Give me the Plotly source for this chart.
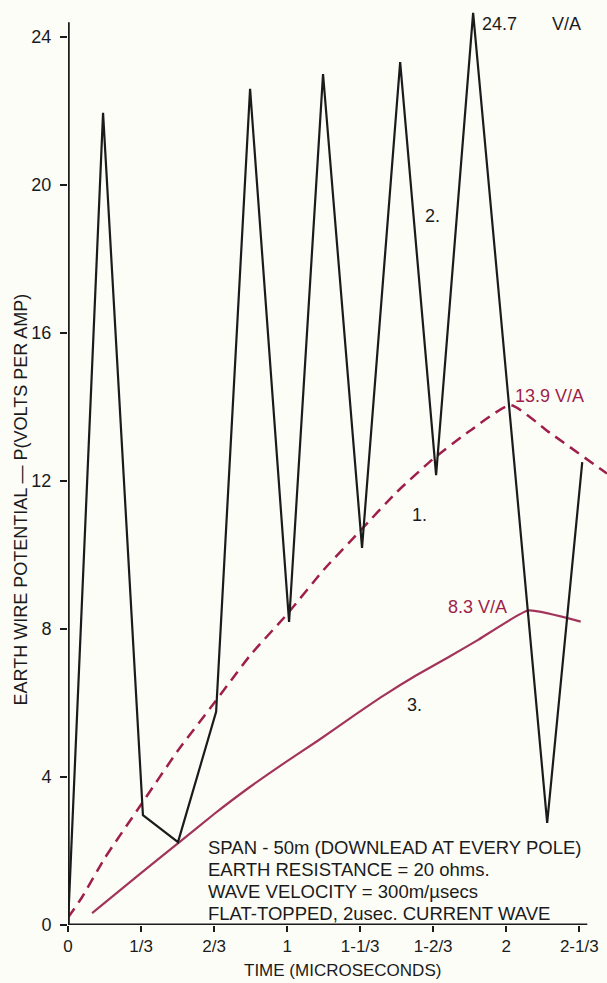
import plotly.graph_objects as go

# ---- data (time in microseconds, potential in volts per amp) ----
curve2_t = [0.0, 0.160, 0.342, 0.502, 0.676, 0.831, 1.009, 1.164, 1.342, 1.516, 1.680, 1.849, 2.187, 2.347]
curve2_v = [0.0, 21.95, 2.97, 2.24, 5.76, 22.6, 8.19, 23.0, 10.19, 23.32, 12.16, 24.65, 2.76, 12.51]

curve1_t = [0.0, 0.064, 0.167, 0.333, 0.5, 0.667, 0.833, 1.0, 1.167, 1.333, 1.5, 1.667, 1.833, 2.02, 2.2, 2.46]
curve1_v = [0.2, 0.75, 1.8, 3.25, 4.7, 6.0, 7.3, 8.4, 9.6, 10.65, 11.7, 12.6, 13.35, 14.05, 13.3, 12.2]

curve3_t = [0.11, 0.333, 0.5, 0.667, 0.83, 0.98, 1.14, 1.29, 1.44, 1.59, 1.74, 1.87, 2.10, 2.34]
curve3_v = [0.32, 1.4, 2.2, 3.0, 3.73, 4.35, 4.98, 5.6, 6.2, 6.75, 7.25, 7.7, 8.5, 8.2]

x_tickvals = [0, 1/3, 2/3, 1, 4/3, 5/3, 2, 7/3]
x_ticktext = ["0", "1/3", "2/3", "1", "1-1/3", "1-2/3", "2", "2-1/3"]
y_tickvals = [0, 4, 8, 12, 16, 20, 24]

notes = [
    "SPAN - 50m (DOWNLEAD AT EVERY POLE)",
    "EARTH RESISTANCE = 20 ohms.",
    "WAVE VELOCITY = 300m/µsecs",
    "FLAT-TOPPED, 2usec. CURRENT WAVE",
]

RED = "#9e1f4b"
RED2 = "#a2345a"
INK = "#1b1b1b"
BG = "#fdfdf8"
FONT = "Liberation Sans, Arial, sans-serif"

fig = go.Figure()
fig.add_trace(go.Scatter(x=curve1_t, y=curve1_v, mode="lines",
                         line=dict(color=RED, width=2.5, dash="11px,7px", shape="spline", smoothing=0.5),
                         hoverinfo="skip"))
fig.add_trace(go.Scatter(x=curve3_t, y=curve3_v, mode="lines",
                         line=dict(color=RED2, width=2.2, shape="spline", smoothing=0.4),
                         hoverinfo="skip"))
fig.add_trace(go.Scatter(x=curve2_t, y=curve2_v, mode="lines",
                         line=dict(color=INK, width=2.2),
                         hoverinfo="skip"))

ann = []
def label(x, y, text, color=INK, size=18, xanchor="left"):
    ann.append(dict(x=x, y=y, xref="x", yref="y", text=text, showarrow=False,
                    font=dict(family=FONT, size=size, color=color),
                    xanchor=xanchor, yanchor="middle"))

label(1.88, 24.35, "24.7")
label(2.20, 24.35, "V/A")
label(1.62, 19.15, "2.")
label(2.03, 14.3, "13.9 V/A", color=RED)
label(1.56, 11.08, "1.")
label(1.725, 8.6, "8.3 V/A", color=RED)
label(1.54, 5.95, "3.")

# note block, one line per annotation (pixel rows 847, 869, 891, 912)
note_rows = [847, 869, 891, 913]
for txt, row in zip(notes, note_rows):
    ann.append(dict(x=0.632, y=(925 - row) / 37.0, xref="x", yref="y", text=txt,
                    showarrow=False, align="left", xanchor="left", yanchor="middle",
                    font=dict(family=FONT, size=18.5, color=INK)))

ann.append(dict(x=0, y=0.46, xref="paper", yref="paper", xshift=-48,
                text="EARTH WIRE POTENTIAL — P(VOLTS PER AMP)", textangle=-90,
                showarrow=False, xanchor="center", yanchor="middle",
                font=dict(family=FONT, size=18, color=INK)))
ann.append(dict(x=(342 - 68) / 539, y=0, xref="paper", yref="paper", yshift=-45,
                text="TIME (MICROSECONDS)", showarrow=False,
                xanchor="center", yanchor="middle",
                font=dict(family=FONT, size=17, color=INK)))

shapes = [
    dict(type="line", xref="x", yref="y", x0=0, x1=0, y0=0, y1=24.4,
         line=dict(color=INK, width=3.5)),
    dict(type="line", xref="x", yref="y", x0=0, x1=2.37, y0=0, y1=0,
         line=dict(color=INK, width=3)),
]

fig.update_layout(
    width=607, height=983,
    margin=dict(l=68, r=0, t=0, b=58, autoexpand=False),
    paper_bgcolor=BG, plot_bgcolor=BG,
    showlegend=False,
    annotations=ann,
    shapes=shapes,
    xaxis=dict(range=[0, 2.46], showgrid=False, zeroline=False, showline=False,
               automargin=False,
               tickmode="array", tickvals=x_tickvals, ticktext=x_ticktext,
               ticks="outside", ticklen=6, tickwidth=2, tickcolor=INK,
               tickfont=dict(family=FONT, size=17, color=INK)),
    yaxis=dict(range=[0, 25], showgrid=False, zeroline=False, showline=False,
               automargin=False, ticklabelstandoff=5,
               tickmode="array", tickvals=y_tickvals,
               ticks="outside", ticklen=7, tickwidth=2, tickcolor=INK,
               tickfont=dict(family=FONT, size=18, color=INK)),
)

fig.write_html("out.html",
               config={"displayModeBar": False, "staticPlot": True},
               post_script="document.body.style.margin='0';document.body.style.overflow='hidden';")
